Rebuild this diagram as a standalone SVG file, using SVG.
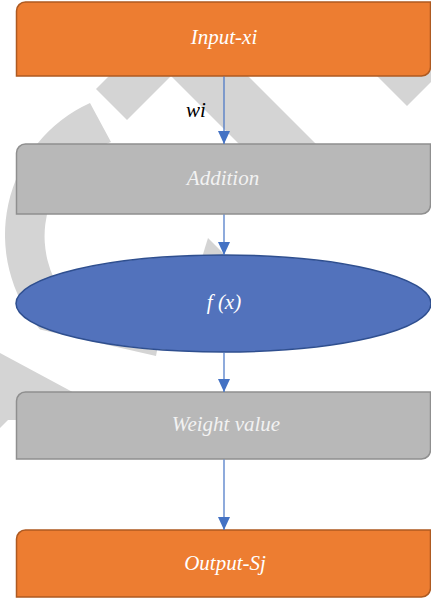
<svg xmlns="http://www.w3.org/2000/svg" width="431" height="601" viewBox="0 0 431 601">
<style>
.wm{fill:#D4D4D4;stroke:none}
.orange{fill:#ED7D31;stroke:#AE5A21;stroke-width:1.5}
.gray{fill:#B8B8B8;stroke:#8F8F8F;stroke-width:1.5}
.ell{fill:#5272BC;stroke:#2F4F8F;stroke-width:1.5}
.lbl{font-family:"Liberation Serif","Times New Roman",serif;font-style:italic;font-size:21px;text-anchor:middle}
.w{fill:#FFFFFF}
.lg{fill:#F2F2F2}
.conn{stroke:#4472C4;stroke-width:1.2;fill:none}
</style>
<defs>
<marker id="ah" markerUnits="userSpaceOnUse" markerWidth="13" markerHeight="12" refX="13" refY="6" orient="auto">
<path d="M0,0 L13,6 L0,12 Z" fill="#4472C4"/>
</marker>
</defs>
<rect width="431" height="601" fill="#FFFFFF"/>
<g id="watermark">
<path class="wm" d="M90,103 A145,145 0 0 0 40,329.5 L156,356 L160,335 A100,100 0 0 1 111,142 Z"/>
<polygon class="wm" points="96,89 127,120 175,72 144,41"/>
<polygon class="wm" points="160,65 237,65 382,210 305,210"/>
<polygon class="wm" points="360,59 407,106 455,58"/>
<polygon class="wm" points="208,238 240,270 195,280"/>
<polygon class="wm" points="0,353 80,396 80,420 8,420 0,428"/>
</g>
<g id="node-input">
<path class="orange" d="M16.5,11 A9,9 0 0 1 25.5,2 H430.5 V67 A9,9 0 0 1 421.5,76 H16.5 Z"/>
<text class="lbl w" x="224" y="44">Input-xi</text>
</g>
<g id="node-addition">
<path class="gray" d="M16.5,153 A9,9 0 0 1 25.5,144 H430.5 V205 A9,9 0 0 1 421.5,214 H16.5 Z"/>
<text class="lbl lg" x="223" y="185">Addition</text>
</g>
<g id="node-fx">
<ellipse class="ell" cx="223.5" cy="303.5" rx="207.5" ry="48.5"/>
<text class="lbl w" x="224" y="309">f (x)</text>
</g>
<g id="node-weight">
<path class="gray" d="M16.5,401 A9,9 0 0 1 25.5,392 H430.5 V450 A9,9 0 0 1 421.5,459 H16.5 Z"/>
<text class="lbl lg" x="226" y="431">Weight value</text>
</g>
<g id="node-output">
<path class="orange" d="M16.5,539 A9,9 0 0 1 25.5,530 H430.5 V588 A9,9 0 0 1 421.5,597 H16.5 Z"/>
<text class="lbl w" x="225" y="570">Output-Sj</text>
</g>
<g id="connectors">
<line class="conn" x1="224" y1="76.5" x2="224" y2="144" marker-end="url(#ah)"/>
<line class="conn" x1="224" y1="214.5" x2="224" y2="255" marker-end="url(#ah)"/>
<line class="conn" x1="224" y1="352.5" x2="224" y2="392" marker-end="url(#ah)"/>
<line class="conn" x1="224" y1="459.5" x2="224" y2="530" marker-end="url(#ah)"/>
<text class="lbl" x="196" y="117" fill="#000000">wi</text>
</g>
</svg>
